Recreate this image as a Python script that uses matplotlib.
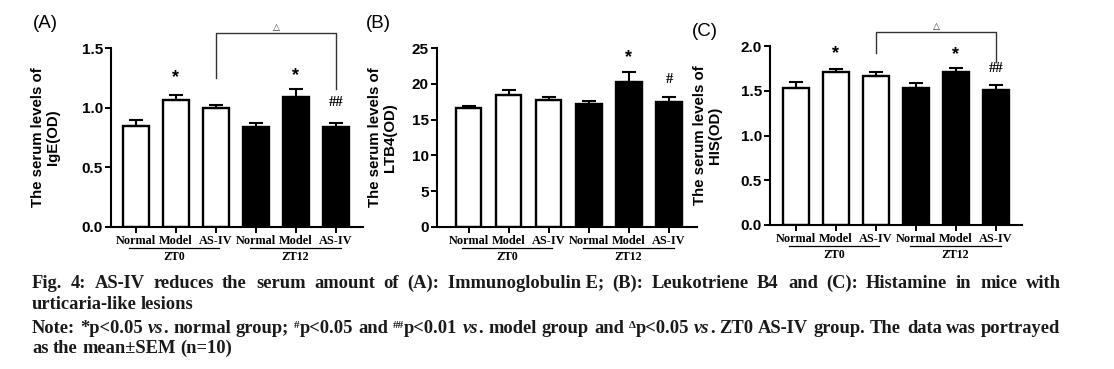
import matplotlib
matplotlib.use("Agg")
import matplotlib.pyplot as plt
from matplotlib.transforms import IdentityTransform, blended_transform_factory

# ---------------- data ----------------
groups = ["Normal", "Model", "AS-IV", "Normal", "Model", "AS-IV"]
timepoints = ["ZT0", "ZT12"]
fill_colors = ["white", "white", "white", "black", "black", "black"]

ige_mean = [0.85, 1.065, 1.00, 0.84, 1.09, 0.84]
ige_sem = [0.05, 0.045, 0.025, 0.035, 0.07, 0.035]

ltb4_mean = [16.6, 18.4, 17.7, 17.2, 20.3, 17.5]
ltb4_sem = [0.3, 0.8, 0.4, 0.4, 1.3, 0.6]

his_mean = [1.534, 1.713, 1.668, 1.534, 1.706, 1.508]
his_sem = [0.06, 0.027, 0.045, 0.049, 0.044, 0.052]

W, H = 1114, 369
DPI = 100
SANS = "Liberation Sans"
SERIF = "Liberation Serif"

fig = plt.figure(figsize=(W / DPI, H / DPI), dpi=DPI)
fig.patch.set_facecolor("white")


def px_axes(left, right, top, bottom):
    return fig.add_axes([left / W, (H - bottom) / H, (right - left) / W, (bottom - top) / H])


def draw_panel(ax, means, sems, ymax, yticks, ytl, xlim, ylabel, label_dx):
    x = list(range(len(means)))
    ax.bar(x, means, width=0.63, color=fill_colors, edgecolor="black", linewidth=1.7, zorder=2)
    ax.errorbar(x, means, yerr=[[0] * len(sems), sems], fmt="none", ecolor="black",
                elinewidth=1.5, capsize=4.7, capthick=1.5, zorder=3)
    ax.set_xlim(*xlim)
    ax.set_ylim(0, ymax)
    ax.set_yticks(yticks)
    ax.set_yticklabels(ytl, fontfamily=SANS, fontweight="bold", fontsize=11)
    ax.set_xticks(x)
    ax.set_xticklabels(groups, fontfamily=SERIF, fontweight="bold", fontsize=8.8)
    for s in ["top", "right"]:
        ax.spines[s].set_visible(False)
    for s in ["left", "bottom"]:
        ax.spines[s].set_linewidth(1.5)
    ax.tick_params(axis="both", length=4.3, width=1.4, pad=1.2)
    ax.tick_params(axis="y", pad=1.5)
    ax.set_ylabel(ylabel, fontfamily=SANS, fontweight="bold", fontsize=10.8, linespacing=1.1)
    ax.yaxis.set_label_coords(label_dx, 0.5)
    # group underlines and labels
    hpx = ax.get_position().height * H
    tr = blended_transform_factory(ax.transData, ax.transAxes)
    for (a, b), name in zip([(-0.18, 2.08), (2.85, 5.13)], timepoints):
        ax.plot([a, b], [-20.7 / hpx] * 2, color="black", lw=0.9, transform=tr, clip_on=False)
        ax.text((a + b) / 2, -30.5 / hpx, name, transform=tr, ha="center", va="center",
                fontfamily=SERIF, fontweight="bold", fontsize=8.6)


def mark(ax, xi, y, s, kind="star"):
    if kind == "star":
        ax.text(xi, y, s, ha="center", va="center", fontfamily=SANS, fontweight="bold",
                fontsize=13, clip_on=False)
    else:
        ax.text(xi, y, s, ha="center", va="center", fontfamily=SERIF, fontweight="bold",
                fontsize=10.5, clip_on=False)


def bracket(ax, x0, x1, top, lb, rb, tri_y):
    ax.plot([x0, x0, x1, x1], [lb, top, top, rb], color="#333333", lw=1.0, clip_on=False)
    ax.text((x0 + x1) / 2, tri_y, "△", ha="center", va="center", fontfamily="DejaVu Sans",
            fontsize=6.5, color="#333333", clip_on=False)


# Panel A
axA = px_axes(111, 363, 48, 227)
draw_panel(axA, ige_mean, ige_sem, 1.5, [0, 0.5, 1.0, 1.5], ["0.0", "0.5", "1.0", "1.5"],
           (-0.625, 5.675), "The serum levels of\nIgE(OD)", -51 / 252)
mark(axA, 1, 1.25, "*")
mark(axA, 4, 1.27, "*")
mark(axA, 5, 1.04, "##", "hash")
bracket(axA, 2, 5, 1.625, 1.25, 1.158, 1.675)

# Panel B
axB = px_axes(436.7, 696.7, 48, 227)
draw_panel(axB, ltb4_mean, ltb4_sem, 25, [0, 5, 10, 15, 20, 25], ["0", "5", "10", "15", "20", "25"],
           (-0.8, 5.69), "The serum levels of\nLTB4(OD)", -40 / 260)
mark(axB, 4, 23.6, "*")
mark(axB, 5, 20.6, "#", "hash")

# Panel C
axC = px_axes(770, 1022, 46, 225)
draw_panel(axC, his_mean, his_sem, 2.0, [0, 0.5, 1.0, 1.5, 2.0], ["0.0", "0.5", "1.0", "1.5", "2.0"],
           (-0.65, 5.65), "The serum levels of\nHIS(OD)", -48 / 252)
mark(axC, 1, 1.91, "*")
mark(axC, 4, 1.905, "*")
mark(axC, 5, 1.75, "##", "hash")
bracket(axC, 2, 5, 2.153, 1.92, 1.82, 2.215)

# Panel letters
for txt, xp, yp in [("(A)", 33, 23), ("(B)", 366, 23), ("(C)", 692, 31)]:
    fig.text(xp, H - yp, txt, transform=IdentityTransform(), ha="left", va="center",
             fontfamily=SANS, fontsize=13.5)

# ---------------- caption ----------------
CAP_SIZE = 13.3
CAP_COLOR = "#1a1a1a"
renderer = fig.canvas.get_renderer()


def piece_props(style):
    p = dict(fontfamily=SERIF, fontweight="bold", fontsize=CAP_SIZE, color=CAP_COLOR)
    dy = 0
    if style == "i":
        p["fontstyle"] = "italic"
    elif style == "sup":
        p["fontsize"] = CAP_SIZE * 0.6
        dy = 5.5
    return p, dy


def measure(text, style):
    p, _ = piece_props(style)
    t = fig.text(0, 0, text, transform=IdentityTransform(), **p)
    w = t.get_window_extent(renderer).width
    t.remove()
    return w


def parse(line):
    # words separated by spaces; pieces marked with {i:..} or {sup:..}
    words = []
    for w in line.split(" "):
        pieces = []
        while w:
            if w.startswith("{"):
                end = w.index("}")
                style, txt = w[1:end].split(":", 1)
                pieces.append((txt, style))
                w = w[end + 1:]
            else:
                nxt = w.find("{")
                if nxt == -1:
                    pieces.append((w, "n"))
                    w = ""
                else:
                    pieces.append((w[:nxt], "n"))
                    w = w[nxt:]
        words.append(pieces)
    return words


def draw_line(line, y_top, x0=31.7, x1=1060.7, justify=False):
    words = parse(line)
    widths = [sum(measure(t, s) for t, s in wd) for wd in words]
    space = measure("a a", "n") - measure("aa", "n")
    if justify and len(words) > 1:
        gap = (x1 - x0 - sum(widths)) / (len(words) - 1)
    else:
        gap = space
    x = x0
    yb = round(H - y_top)
    for wd, ww in zip(words, widths):
        xx = x
        for t, s in wd:
            p, dy = piece_props(s)
            fig.text(round(xx), yb + dy, t, transform=IdentityTransform(), ha="left",
                     va="baseline", **p)
            xx += measure(t, s)
        x += ww + gap


line1 = ("Fig. 4: AS-IV reduces the serum amount of (A): Immunoglobulin\u00a0E; (B): "
         "Leukotriene B4 and (C): Histamine in mice with")
line2 = "urticaria-like lesions"
line3 = ("Note: *p<0.05 {i:vs}. normal group; {sup:#}p<0.05 and {sup:##}p<0.01 {i:vs}. model group "
         "and {sup:Δ}p<0.05 {i:vs}. ZT0 AS-IV group. The data was portrayed")
line4 = "as the mean±SEM (n=10)"

draw_line(line1, 288, justify=True)
draw_line(line2, 309)
draw_line(line3, 332.7, justify=True)
draw_line(line4, 353)

fig.savefig("out.png", dpi=DPI, facecolor="white")
